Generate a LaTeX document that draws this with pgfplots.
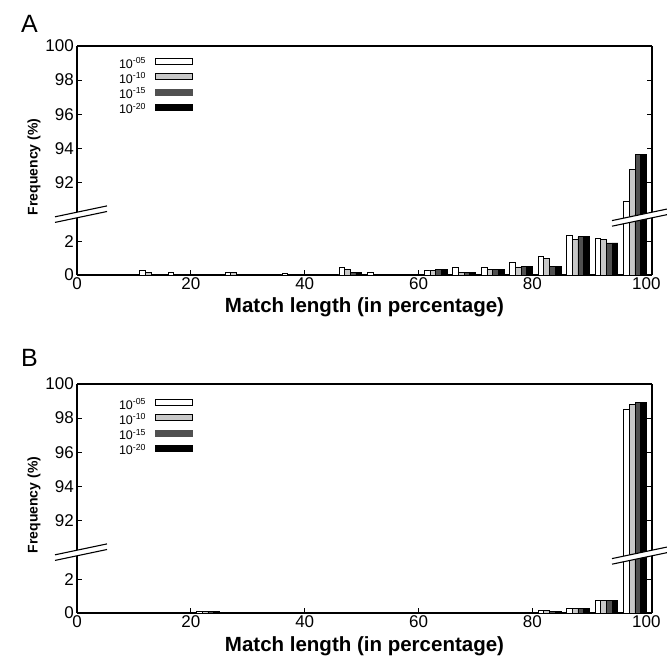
\documentclass[border=0pt]{standalone}
\usepackage{fontspec}
\setmainfont{Liberation Sans}
\usepackage{pgfplots}
\usepackage{pgfplotstable}
\pgfplotsset{compat=1.18}
\definecolor{lgray}{RGB}{200,200,200}
\definecolor{dgray}{RGB}{80,80,80}

% panel A, one table per threshold (x = bar centre, y = frequency)
\pgfplotstableread{
x y
11.5 0.30
16.5 0.15
26.5 0.14
36.5 0.12
46.5 0.48
51.5 0.13
61.5 0.29
66.5 0.48
71.5 0.48
76.5 0.76
81.5 1.09
86.5 2.36
91.5 2.19
96.5 90.9
}\Awhite
\pgfplotstableread{
x y
12.5 0.15
27.5 0.14
47.5 0.34
62.5 0.29
67.5 0.13
72.5 0.32
77.5 0.48
82.5 0.97
87.5 2.11
92.5 2.11
97.5 92.8
}\Alight
\pgfplotstableread{
x y
48.5 0.15
63.5 0.32
68.5 0.15
73.5 0.32
78.5 0.52
83.5 0.51
88.5 2.29
93.5 1.92
98.5 93.66
}\Adark
\pgfplotstableread{
x y
49.5 0.15
64.5 0.32
69.5 0.15
74.5 0.32
79.5 0.50
84.5 0.51
89.5 2.29
94.5 1.92
99.5 93.66
}\Ablack

% panel B
\pgfplotstableread{
x y
11.5 0.05
16.5 0.05
21.5 0.07
31.5 0.05
61.5 0.05
81.5 0.15
86.5 0.25
91.5 0.78
96.5 98.5
}\Bwhite
\pgfplotstableread{
x y
22.5 0.07
82.5 0.15
87.5 0.25
92.5 0.78
97.5 98.8
}\Blight
\pgfplotstableread{
x y
23.5 0.07
83.5 0.08
88.5 0.27
93.5 0.78
98.5 98.9
}\Bdark
\pgfplotstableread{
x y
24.5 0.07
84.5 0.08
89.5 0.27
94.5 0.78
99.5 98.9
}\Bblack

\pgfplotsset{
  brk/.style={scale only axis, width=575pt, xmin=0, xmax=101, enlargelimits=false,
    anchor=south west, axis y line*=box, tick align=inside, major tick length=5pt,
    axis line style={line width=1.2pt}, tick style={line width=1.2pt, black},
    /pgf/number format/assume math mode=true,
    ticklabel style={font=\fontsize{17}{17}\selectfont},
    yticklabel style={anchor=east, inner sep=0pt, xshift=-3pt},
    xticklabel style={anchor=north, inner sep=0pt, yshift=-2.5pt}},
  bw/.style={ybar, bar width=1, bar shift=0pt, draw=black, line width=0.7pt},
  upper/.style={brk, height=169pt, ymin=90.1, ymax=100, ytick={92,94,...,100},
    axis x line*=top, xtick=\empty, restrict y to domain=90:200,
    legend image code/.code={\draw[##1] (0pt,1pt) rectangle (37pt,7pt);},
    legend plot pos=right, legend cell align=right,
    legend style={draw=none, fill=none, inner sep=0pt, column sep=9pt, row sep=2.3pt,
      nodes={inner sep=0pt, text height=8pt, text depth=3pt, font=\fontsize{12.5}{13}\selectfont}}},
  lower/.style={brk, height=60pt, ymin=0, ymax=3.6, ytick={0,2},
    axis x line*=bottom, xtick={0,20,...,100},
    xlabel={Match length (in percentage)},
    xlabel style={at={(axis description cs:0.5,0)}, anchor=base, yshift=-38pt, inner sep=0pt,
      font=\bfseries\fontsize{20.5}{24}\selectfont}},
}

\newcommand{\axbreak}[4]{%
  \fill[white] ({#1-#3},{#2-2.8-0.21*#3}) -- ({#1+#4},{#2-2.8+0.21*#4})
    -- ({#1+#4},{#2+2.8+0.21*#4}) -- ({#1-#3},{#2+2.8-0.21*#3}) -- cycle;
  \draw[line width=1.1pt] ({#1-#3},{#2-2.8-0.21*#3}) -- ({#1+#4},{#2-2.8+0.21*#4});
  \draw[line width=1.1pt] ({#1-#3},{#2+2.8-0.21*#3}) -- ({#1+#4},{#2+2.8+0.21*#4});
}

\begin{document}
\begin{tikzpicture}[x=1pt, y=1pt]
\useasboundingbox (0,0) rectangle (667,670);

% ---- panel A ----
\begin{axis}[upper, at={(77pt,455pt)}, legend style={at={(0.2017,0.929)}, anchor=north east}]
  \addlegendimage{draw=black, fill=white, line width=0.7pt}
  \addlegendimage{draw=black, fill=lgray, line width=0.7pt}
  \addlegendimage{draw=dgray, fill=dgray, line width=0.7pt}
  \addlegendimage{draw=black, fill=black, line width=0.7pt}
  \legend{10\textsuperscript{-05}, 10\textsuperscript{-10}, 10\textsuperscript{-15}, 10\textsuperscript{-20}}
  \addplot[bw, fill=white] table {\Awhite};
  \addplot[bw, fill=lgray] table {\Alight};
  \addplot[bw, fill=dgray] table {\Adark};
  \addplot[bw, fill=black] table {\Ablack};
\end{axis}
\begin{axis}[lower, at={(77pt,395pt)}]
  \addplot[bw, fill=white] table {\Awhite};
  \addplot[bw, fill=lgray] table {\Alight};
  \addplot[bw, fill=dgray] table {\Adark};
  \addplot[bw, fill=black] table {\Ablack};
\end{axis}

% ---- panel B ----
\begin{axis}[upper, at={(77pt,117pt)}, legend style={at={(0.2017,0.911)}, anchor=north east}]
  \addlegendimage{draw=black, fill=white, line width=0.7pt}
  \addlegendimage{draw=black, fill=lgray, line width=0.7pt}
  \addlegendimage{draw=dgray, fill=dgray, line width=0.7pt}
  \addlegendimage{draw=black, fill=black, line width=0.7pt}
  \legend{10\textsuperscript{-05}, 10\textsuperscript{-10}, 10\textsuperscript{-15}, 10\textsuperscript{-20}}
  \addplot[bw, fill=white] table {\Bwhite};
  \addplot[bw, fill=lgray] table {\Blight};
  \addplot[bw, fill=dgray] table {\Bdark};
  \addplot[bw, fill=black] table {\Bblack};
\end{axis}
\begin{axis}[lower, at={(77pt,57pt)}]
  \addplot[bw, fill=white] table {\Bwhite};
  \addplot[bw, fill=lgray] table {\Blight};
  \addplot[bw, fill=dgray] table {\Bdark};
  \addplot[bw, fill=black] table {\Bblack};
\end{axis}

% axis breaks
\axbreak{77}{455}{22}{30}
\axbreak{652}{455}{40}{15}
\axbreak{77}{117}{22}{30}
\axbreak{652}{117}{40}{15}

% panel letters and y labels
\node[anchor=base west, inner sep=0pt, font=\fontsize{25}{25}\selectfont] at (21,637) {A};
\node[anchor=base west, inner sep=0pt, font=\fontsize{25}{25}\selectfont] at (21,303) {B};
\node[rotate=90, inner sep=0pt, font=\bfseries\fontsize{14}{14}\selectfont] at (34,503) {Frequency (\%)};
\node[rotate=90, inner sep=0pt, font=\bfseries\fontsize{14}{14}\selectfont] at (34,165) {Frequency (\%)};
\end{tikzpicture}
\end{document}
